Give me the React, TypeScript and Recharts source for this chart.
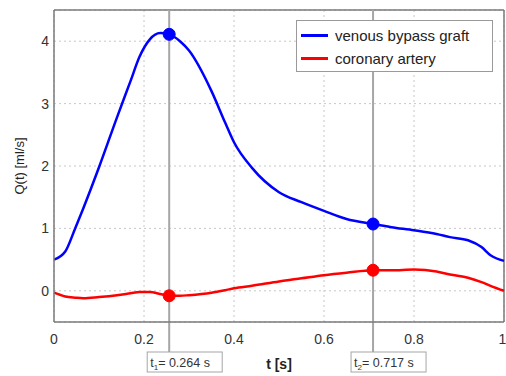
import React from "react";
import {
  LineChart,
  Line,
  XAxis,
  YAxis,
  CartesianGrid,
  Legend,
  ReferenceLine,
  ReferenceDot,
} from "recharts";

// time samples [s]
const times = [
  0, 0.025, 0.047, 0.065, 0.1, 0.14, 0.17, 0.19, 0.213, 0.236, 0.256, 0.28,
  0.3, 0.35, 0.38, 0.4, 0.44, 0.5, 0.55, 0.6, 0.65, 0.709, 0.75, 0.8, 0.85,
  0.88, 0.92, 0.95, 0.97, 1.0,
];
// flow [ml/s]
const graftFlow = [
  0.5, 0.63, 1.0, 1.32, 1.98, 2.78, 3.36, 3.75, 4.03, 4.13, 4.11, 4.0, 3.85,
  3.2, 2.7, 2.38, 1.97, 1.58, 1.42, 1.28, 1.15, 1.07, 1.02, 0.97, 0.91, 0.86,
  0.81, 0.7, 0.57, 0.48,
];
const arteryFlow = [
  -0.03, -0.09, -0.11, -0.12, -0.1, -0.07, -0.04, -0.02, -0.02, -0.05, -0.08,
  -0.08, -0.07, -0.03, 0.01, 0.04, 0.08, 0.15, 0.2, 0.25, 0.29, 0.33, 0.33,
  0.34, 0.31, 0.26, 0.21, 0.14, 0.08, 0.0,
];

const xTicks = [0, 0.2, 0.4, 0.6, 0.8, 1];
const yTicks = [0, 1, 2, 3, 4];

// marked instants: where they sit on the axis, and what the box says
const markTimes = [0.256, 0.709];
const markSubs = ["1", "2"];
const markTexts = ["= 0.264 s", "= 0.717 s"];

const data = times.map((t, i) => ({
  t,
  graft: graftFlow[i],
  artery: arteryFlow[i],
}));

const FONT = '"Liberation Sans", Arial, Helvetica, sans-serif';
const FRAME = "#7a7a7a";

const markShape = (sub: string, text: string) => (p: any) => {
  const x = p.x1;
  const top = Math.min(p.y1, p.y2);
  const bottom = Math.max(p.y1, p.y2);
  const boxTop = bottom + 30;
  return (
    <g>
      <line x1={x} x2={x} y1={top} y2={boxTop} stroke="#a6a6a6" strokeWidth={2} />
      <rect
        x={x - 22}
        y={boxTop}
        width={75}
        height={20}
        fill="#fff"
        stroke="#a6a6a6"
        strokeWidth={1}
      />
      <text x={x - 19} y={boxTop + 15} fontSize={12.5} fill="#333">
        t
        <tspan fontSize={8} dy={3}>
          {sub}
        </tspan>
        <tspan dy={-3}>{text}</tspan>
      </text>
    </g>
  );
};

const LegendBox = () => (
  <div
    style={{
      width: 197,
      height: 52,
      boxSizing: "border-box",
      border: "1px solid #9a9a9a",
      background: "#fff",
      paddingTop: 3,
      fontFamily: FONT,
      fontSize: 15,
      color: "#222",
    }}
  >
    {[
      { name: "venous bypass graft", color: "#0000ff" },
      { name: "coronary artery", color: "#ff0000" },
    ].map((e) => (
      <div
        key={e.name}
        style={{ display: "flex", alignItems: "center", height: 23 }}
      >
        <span
          style={{
            display: "inline-block",
            width: 27,
            height: 3,
            marginLeft: 4,
            marginRight: 7,
            background: e.color,
          }}
        />
        <span>{e.name}</span>
      </div>
    ))}
  </div>
);

const App: React.FC = () => {
  return (
    <div
      style={{
        position: "absolute",
        left: 0,
        top: 0,
        width: 506,
        height: 376,
        fontFamily: FONT,
        background: "#fff",
      }}
    >
      <LineChart
        width={506}
        height={376}
        data={data}
        margin={{ top: 10, right: 2, left: 0, bottom: 0 }}
      >
        <CartesianGrid stroke="#c8c8c8" strokeDasharray="2 3" />
        <XAxis
          dataKey="t"
          type="number"
          domain={[0, 1]}
          ticks={xTicks}
          height={54}
          tickSize={0}
          tickMargin={12}
          stroke={FRAME}
          strokeWidth={1.5}
          tick={{ fontSize: 14, fill: "#333" }}
          label={{
            value: "t [s]",
            position: "insideBottom",
            offset: 7,
            style: { fontSize: 14, fontWeight: "bold", fill: "#222" },
          }}
        />
        <YAxis
          type="number"
          domain={[-0.5, 4.5]}
          ticks={yTicks}
          width={54}
          tickSize={0}
          tickMargin={5}
          stroke={FRAME}
          strokeWidth={1.5}
          tick={{ fontSize: 14, fill: "#333" }}
          label={{
            value: "Q(t) [ml/s]",
            angle: -90,
            position: "insideLeft",
            offset: 19,
            style: { fontSize: 13, fill: "#222", textAnchor: "middle" },
          }}
        />
        <ReferenceLine x={1} stroke={FRAME} strokeWidth={1.5} />
        <ReferenceLine y={4.5} stroke={FRAME} strokeWidth={1.5} />
        {markTimes.map((t, i) => (
          <ReferenceLine
            key={"m" + i}
            x={t}
            shape={markShape(markSubs[i], markTexts[i])}
          />
        ))}
        <Line
          type="monotone"
          dataKey="graft"
          name="venous bypass graft"
          stroke="#0000ff"
          strokeWidth={2.5}
          dot={false}
          isAnimationActive={false}
        />
        <Line
          type="monotone"
          dataKey="artery"
          name="coronary artery"
          stroke="#ff0000"
          strokeWidth={2.5}
          dot={false}
          isAnimationActive={false}
        />
        {markTimes.map((t, i) => {
          const k = times.indexOf(t);
          return (
            <React.Fragment key={"d" + i}>
              <ReferenceDot
                x={t}
                y={graftFlow[k]}
                r={6}
                fill="#0000ff"
                stroke="#0000ff"
              />
              <ReferenceDot
                x={t}
                y={arteryFlow[k]}
                r={6}
                fill="#ff0000"
                stroke="#ff0000"
              />
            </React.Fragment>
          );
        })}
        <Legend
          layout="vertical"
          align="center"
          verticalAlign="middle"
          wrapperStyle={{ left: 296, top: 20, width: 197, height: 52 }}
          content={() => <LegendBox />}
        />
      </LineChart>
    </div>
  );
};

export default App;
